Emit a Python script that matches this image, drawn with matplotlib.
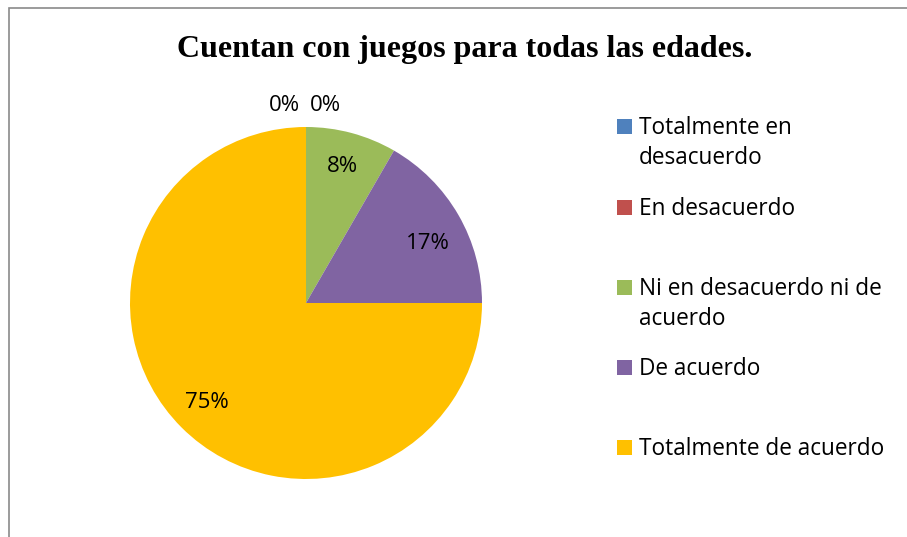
import matplotlib
matplotlib.use("Agg")
import matplotlib.pyplot as plt
from matplotlib.patches import Rectangle
import numpy as np

title = "Cuentan con juegos para todas las edades."
categories = ["Totalmente en\ndesacuerdo", "En desacuerdo",
              "Ni en desacuerdo ni de\nacuerdo", "De acuerdo",
              "Totalmente de acuerdo"]
values = [0, 0, 1, 2, 9]
pct_labels = ["0%", "0%", "8%", "17%", "75%"]
colors = ["#4F81BD", "#C0504D", "#9BBB59", "#8064A2", "#FFC000"]

W, H = 907, 537
fig = plt.figure(figsize=(W / 100, H / 100), dpi=100)
fig.patch.set_facecolor("white")

# outer chart frame (left and top edges visible)
fig.patches.append(Rectangle((9 / W, -0.1), 1.2, (H - 8) / H + 0.1,
                             transform=fig.transFigure, fill=False,
                             edgecolor="#8a8a8a", linewidth=1.2))

fig.text(465 / W, 1 - 50 / H, title, ha="center", va="center",
         family="Liberation Serif", fontweight="bold", fontsize=23)

ax = fig.add_axes([130 / W, 1 - 479 / H, 352 / W, 352 / H])
wedges, _ = ax.pie(values, colors=colors, startangle=90, counterclock=False,
                   radius=1.0, wedgeprops=dict(linewidth=0))
ax.set_xlim(-1, 1)
ax.set_ylim(-1, 1)
ax.axis("off")

lab_font = dict(family="Open Sans", fontsize=16, color="#000000")
# label placement style (angle nudge in degrees, radial distance)
label_nudge = [0, 0, 0, -4, 0]
label_dist = [1.12, 1.12, 0.80, 0.77, 0.80]
zero_shift = [-0.12, 0.11]
zi = 0
for w, v, lab, nd, d in zip(wedges, values, pct_labels, label_nudge, label_dist):
    if v == 0:
        ax.text(zero_shift[zi], d, lab, ha="center", va="center",
                clip_on=False, **lab_font)
        zi += 1
        continue
    th = np.deg2rad((w.theta1 + w.theta2) / 2 + nd)
    ax.text(d * np.cos(th), d * np.sin(th), lab, ha="center", va="center", **lab_font)

# legend
leg_font = dict(family="Open Sans", fontsize=16.3, color="#000000")
ys = [127, 208, 288, 368, 448]
for y, cat, col in zip(ys, categories, colors):
    fig.patches.append(Rectangle((617 / W, 1 - (y + 7) / H), 15 / W, 15 / H,
                                 transform=fig.transFigure, facecolor=col,
                                 edgecolor="none"))
    for i, line in enumerate(cat.split("\n")):
        fig.text(639 / W, 1 - (y + 1 + 30 * i) / H, line, ha="left",
                 va="center", **leg_font)

fig.savefig("out.png", dpi=100, facecolor="white")
